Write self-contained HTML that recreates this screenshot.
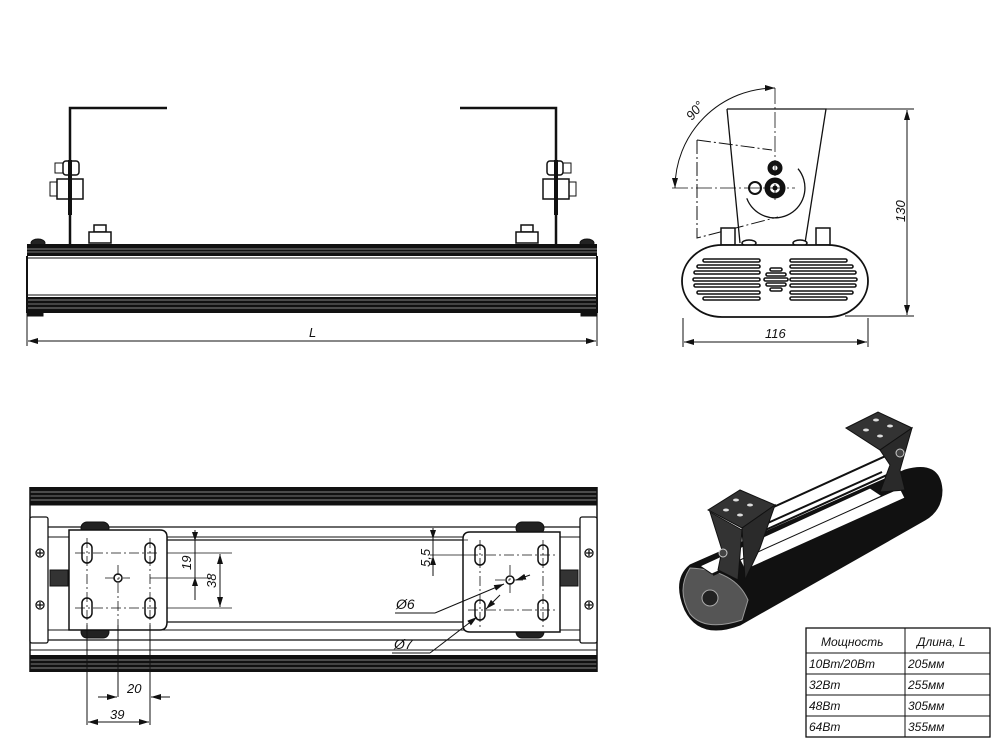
<!DOCTYPE html>
<html><head><meta charset="utf-8"><style>
html,body{margin:0;padding:0;background:#fff}
svg{display:block}
text{font-family:"Liberation Sans","DejaVu Sans",sans-serif;font-style:italic;fill:#111}
</style></head><body>
<svg width="1000" height="750" viewBox="0 0 1000 750" xmlns="http://www.w3.org/2000/svg">
<defs>
<marker id="ar" markerWidth="10" markerHeight="6" refX="10" refY="3" orient="auto-start-reverse" markerUnits="userSpaceOnUse"><path d="M0,0 L10,3 L0,6 z" fill="#111"/></marker>
</defs>
<g stroke="#111" fill="none" stroke-width="1">

<!-- ===== TOP LEFT VIEW ===== -->
<path d="M167,108 H70 V244" stroke-width="2.5"/>
<path d="M460,108 H556 V244" stroke-width="2.5"/>
<rect x="55" y="163" width="10" height="10" fill="#fff"/>
<rect x="63" y="161" width="16" height="14" rx="3" fill="#fff" stroke-width="1.5"/>
<rect x="50" y="182" width="8" height="14" fill="#fff"/>
<rect x="57" y="179" width="26" height="20" fill="#fff" stroke-width="1.5"/>
<line x1="70" y1="160" x2="70" y2="215" stroke-width="4"/>
<rect x="561" y="163" width="10" height="10" fill="#fff"/>
<rect x="547" y="161" width="16" height="14" rx="3" fill="#fff" stroke-width="1.5"/>
<rect x="568" y="182" width="8" height="14" fill="#fff"/>
<rect x="543" y="179" width="26" height="20" fill="#fff" stroke-width="1.5"/>
<line x1="556" y1="160" x2="556" y2="215" stroke-width="4"/>
<rect x="94" y="225" width="12" height="7" fill="#fff" stroke-width="1.5"/>
<rect x="89" y="232" width="22" height="11" fill="#fff" stroke-width="1.5"/>
<rect x="521" y="225" width="12" height="7" fill="#fff" stroke-width="1.5"/>
<rect x="516" y="232" width="22" height="11" fill="#fff" stroke-width="1.5"/>
<ellipse cx="38" cy="243" rx="7" ry="4" fill="#222"/>
<ellipse cx="587" cy="243" rx="7" ry="4" fill="#222"/>
<rect x="27" y="244" width="570" height="12" fill="#111" stroke="none"/>
<line x1="27" y1="249" x2="597" y2="249" stroke="#888"/>
<line x1="27" y1="252" x2="597" y2="252" stroke="#777"/>
<rect x="27" y="297" width="570" height="16" fill="#111" stroke="none"/>
<line x1="27" y1="300" x2="597" y2="300" stroke="#888"/>
<line x1="27" y1="304" x2="597" y2="304" stroke="#777"/>
<line x1="27" y1="308" x2="597" y2="308" stroke="#888"/>
<line x1="27" y1="256" x2="27" y2="313" stroke-width="2"/>
<line x1="597" y1="256" x2="597" y2="313" stroke-width="2"/>
<line x1="27" y1="258" x2="597" y2="258"/>
<line x1="27" y1="295" x2="597" y2="295"/>
<rect x="27" y="312" width="16" height="4" fill="#111"/>
<rect x="581" y="312" width="16" height="4" fill="#111"/>
<line x1="27" y1="316" x2="27" y2="346"/>
<line x1="597" y1="316" x2="597" y2="346"/>
<line x1="28" y1="341" x2="596" y2="341" marker-start="url(#ar)" marker-end="url(#ar)"/>

<!-- ===== TOP RIGHT VIEW ===== -->
<path d="M697,140 L772,150" stroke-dasharray="14,3,2,3"/>
<path d="M697,140 V238 L778,217" stroke-dasharray="14,3,2,3"/>
<path d="M727,109 H826 L805,243 M727,109 L740,243" stroke-width="1.3"/>
<path d="M798,168.7 A30,30 0 1 1 746.8,198.3" stroke-width="1.3" fill="none"/>
<circle cx="775" cy="168" r="7" fill="#111"/><circle cx="775" cy="168" r="2.5" fill="#fff" stroke="none"/>
<circle cx="775" cy="188" r="10" fill="#111"/><circle cx="775" cy="188" r="5" fill="#fff" stroke="none"/><circle cx="775" cy="188" r="2.5" fill="#111" stroke="none"/>
<circle cx="755" cy="188" r="6" fill="#fff" stroke-width="2"/>
<line x1="775" y1="88" x2="775" y2="200" stroke-dasharray="16,3,2,3" stroke-width="0.8"/>
<line x1="672" y1="188" x2="795" y2="188" stroke-dasharray="16,3,2,3" stroke-width="0.8"/>
<path d="M775,88 A100,100 0 0 0 675,188" marker-start="url(#ar)" marker-end="url(#ar)"/>
<rect x="721" y="228" width="14" height="17" fill="#fff" stroke-width="1.5"/>
<rect x="816" y="228" width="14" height="17" fill="#fff" stroke-width="1.5"/>
<ellipse cx="749" cy="243" rx="7" ry="3" fill="#fff" stroke-width="1.5"/>
<ellipse cx="800" cy="243" rx="7" ry="3" fill="#fff" stroke-width="1.5"/>
<rect x="682" y="245" width="186" height="72" rx="40" ry="36" fill="#fff" stroke-width="1.8"/>
<g stroke-width="1.6">
<rect x="703" y="259" width="57" height="3" rx="1.5"/>
<rect x="697" y="265" width="63" height="3" rx="1.5"/>
<rect x="694" y="271" width="66" height="3" rx="1.5"/>
<rect x="693" y="278" width="67" height="3" rx="1.5"/>
<rect x="694" y="284" width="66" height="3" rx="1.5"/>
<rect x="697" y="291" width="63" height="3" rx="1.5"/>
<rect x="703" y="297" width="57" height="3" rx="1.5"/>
<rect x="790" y="259" width="57" height="3" rx="1.5"/>
<rect x="790" y="265" width="63" height="3" rx="1.5"/>
<rect x="790" y="271" width="66" height="3" rx="1.5"/>
<rect x="790" y="278" width="67" height="3" rx="1.5"/>
<rect x="790" y="284" width="66" height="3" rx="1.5"/>
<rect x="790" y="291" width="63" height="3" rx="1.5"/>
<rect x="790" y="297" width="57" height="3" rx="1.5"/>
<rect x="770" y="268" width="12" height="3" rx="1.5"/>
<rect x="766" y="273" width="20" height="3" rx="1.5"/>
<rect x="764" y="278" width="24" height="3" rx="1.5"/>
<rect x="766" y="283" width="20" height="3" rx="1.5"/>
<rect x="770" y="288" width="12" height="3" rx="1.5"/>
</g>
<line x1="826" y1="109" x2="914" y2="109"/>
<line x1="845" y1="316" x2="914" y2="316"/>
<line x1="907" y1="110" x2="907" y2="315" marker-start="url(#ar)" marker-end="url(#ar)"/>
<line x1="683" y1="318" x2="683" y2="347"/>
<line x1="868" y1="318" x2="868" y2="347"/>
<line x1="684" y1="342" x2="867" y2="342" marker-start="url(#ar)" marker-end="url(#ar)"/>

<!-- ===== BOTTOM LEFT VIEW ===== -->
<rect x="30" y="487" width="567" height="18" fill="#111" stroke="none"/>
<line x1="30" y1="492" x2="597" y2="492" stroke="#888"/>
<line x1="30" y1="496" x2="597" y2="496" stroke="#777"/>
<line x1="30" y1="500" x2="597" y2="500" stroke="#888"/>
<rect x="30" y="655" width="567" height="17" fill="#111" stroke="none"/>
<line x1="30" y1="660" x2="597" y2="660" stroke="#888"/>
<line x1="30" y1="664" x2="597" y2="664" stroke="#777"/>
<line x1="30" y1="668" x2="597" y2="668" stroke="#888"/>
<line x1="30" y1="505" x2="597" y2="505"/>
<line x1="30" y1="650" x2="597" y2="650"/>
<line x1="30" y1="487" x2="30" y2="672" stroke-width="1.5"/>
<line x1="597" y1="487" x2="597" y2="672" stroke-width="1.5"/>
<line x1="48" y1="527" x2="580" y2="527" stroke-width="1.3"/>
<line x1="48" y1="537" x2="580" y2="537"/>
<line x1="165" y1="540" x2="463" y2="540" stroke-width="1.3"/>
<line x1="165" y1="622" x2="463" y2="622" stroke-width="1.3"/>
<line x1="48" y1="630" x2="580" y2="630"/>
<line x1="48" y1="640" x2="580" y2="640" stroke-width="1.3"/>
<rect x="30" y="517" width="18" height="126" rx="2" fill="#fff" stroke-width="1.3"/>
<rect x="580" y="517" width="17" height="126" rx="2" fill="#fff" stroke-width="1.3"/>
<g stroke-width="1.3">
<circle cx="40" cy="553" r="4"/><path d="M37,553 h6 M40,550 v6"/>
<circle cx="40" cy="605" r="4"/><path d="M37,605 h6 M40,602 v6"/>
<circle cx="589" cy="553" r="4"/><path d="M586,553 h6 M589,550 v6"/>
<circle cx="589" cy="605" r="4"/><path d="M586,605 h6 M589,602 v6"/>
</g>
<rect x="50" y="570" width="18" height="16" fill="#333"/>
<rect x="560" y="570" width="18" height="16" fill="#333"/>
<rect x="81" y="522" width="28" height="12" rx="6" fill="#222"/>
<rect x="81" y="626" width="28" height="12" rx="6" fill="#222"/>
<rect x="516" y="522" width="28" height="12" rx="6" fill="#222"/>
<rect x="516" y="626" width="28" height="12" rx="6" fill="#222"/>
<path d="M69,530 H160 Q167,530 167,537 V622 Q167,630 160,630 H69 Z" fill="#fff" stroke-width="1.5"/>
<path d="M470,532 H560 V632 H470 Q463,632 463,625 V539 Q463,532 470,532 Z" fill="#fff" stroke-width="1.5"/>
<g stroke-width="1.5">
<rect x="82" y="543" width="10" height="20" rx="5"/><rect x="145" y="543" width="10" height="20" rx="5"/>
<rect x="82" y="598" width="10" height="20" rx="5"/><rect x="145" y="598" width="10" height="20" rx="5"/>
<circle cx="118" cy="578" r="4"/>
<rect x="475" y="545" width="10" height="20" rx="5"/><rect x="538" y="545" width="10" height="20" rx="5"/>
<rect x="475" y="600" width="10" height="20" rx="5"/><rect x="538" y="600" width="10" height="20" rx="5"/>
<circle cx="510" cy="580" r="4"/>
</g>
<g stroke-width="0.8" stroke-dasharray="10,3,2,3">
<line x1="75" y1="553" x2="160" y2="553"/><line x1="75" y1="608" x2="160" y2="608"/>
<line x1="87" y1="538" x2="87" y2="625"/><line x1="150" y1="538" x2="150" y2="625"/>
<line x1="105" y1="578" x2="130" y2="578"/><line x1="118" y1="565" x2="118" y2="625"/>
<line x1="468" y1="555" x2="555" y2="555"/><line x1="468" y1="610" x2="555" y2="610"/>
<line x1="480" y1="540" x2="480" y2="627"/><line x1="543" y1="540" x2="543" y2="627"/>
<line x1="495" y1="580" x2="525" y2="580"/><line x1="510" y1="565" x2="510" y2="595"/>
</g>
<line x1="87" y1="625" x2="87" y2="725"/>
<line x1="118" y1="625" x2="118" y2="697"/>
<line x1="150" y1="625" x2="150" y2="725"/>
<line x1="98" y1="697" x2="117" y2="697" marker-end="url(#ar)"/>
<line x1="151" y1="697" x2="170" y2="697" marker-start="url(#ar)"/>
<line x1="88" y1="722" x2="149" y2="722" marker-start="url(#ar)" marker-end="url(#ar)"/>
<line x1="150" y1="578" x2="212" y2="578" stroke-width="0.8"/>
<line x1="167" y1="608" x2="232" y2="608" stroke-width="0.8"/>
<line x1="167" y1="553" x2="232" y2="553" stroke-width="0.8"/>
<line x1="195" y1="530" x2="195" y2="600"/>
<path d="M195,541 l-3,-9 h6 z M195,577 l-3,9 h6 z" fill="#111" stroke="none"/>
<line x1="220" y1="554" x2="220" y2="607" marker-start="url(#ar)" marker-end="url(#ar)"/>
<line x1="430" y1="540" x2="468" y2="540" stroke-width="0.8"/>
<line x1="430" y1="555" x2="468" y2="555" stroke-width="0.8"/>
<line x1="433" y1="528" x2="433" y2="576"/>
<path d="M433,539 l-3,-9 h6 z M433,556 l-3,9 h6 z" fill="#111" stroke="none"/>
<line x1="395" y1="613" x2="435" y2="613"/>
<line x1="435" y1="613" x2="504" y2="584" marker-end="url(#ar)"/>
<line x1="530" y1="575" x2="516" y2="580" marker-end="url(#ar)"/>
<line x1="392" y1="653" x2="430" y2="653"/>
<line x1="430" y1="653" x2="477" y2="617" marker-end="url(#ar)"/>
<line x1="500" y1="595" x2="486" y2="609" marker-end="url(#ar)"/>

<!-- ===== ISO VIEW ===== -->
<path d="M690,565 L905,470 Q940,460 942,490 Q942,510 925,520 L740,625 Q700,640 685,610 Q672,580 690,565 Z" fill="#111"/>
<path d="M690,568 Q676,590 690,614 Q705,632 742,620 L748,600 Q735,570 690,568 Z" fill="#555" stroke="#999"/>
<circle cx="710" cy="598" r="8" fill="#222" stroke="#aaa"/>
<path d="M700,566 L870,488 L882,496 L712,574 Z" fill="#fff" stroke="#111"/>
<path d="M713,575 L900,488" stroke="#111" stroke-width="2"/>
<path d="M740,560 L900,488 L905,498 L745,570 Z" fill="#fff" stroke="#111"/>
<path d="M745,520 L890,454 L898,470 L752,536 Z" fill="#fff" stroke="#111" stroke-width="2"/>
<path d="M752,530 L882,472" stroke="#111" stroke-width="2"/>
<path d="M708,510 L740,490 L775,505 L742,528 Z" fill="#333" stroke="#111"/>
<path d="M710,512 L722,550 L718,570 L738,580 L742,530 Z" fill="#333" stroke="#111"/>
<path d="M742,528 L775,505 L760,548 L745,580 Z" fill="#2a2a2a" stroke="#111"/>
<path d="M846,428 L878,412 L912,428 L880,450 Z" fill="#333" stroke="#111"/>
<path d="M880,450 L912,428 L900,470 L905,490 L880,492 L890,465 Z" fill="#2a2a2a" stroke="#111"/>
<g fill="#ddd" stroke="none">
<ellipse cx="736" cy="500" rx="3" ry="1.5"/><ellipse cx="750" cy="505" rx="3" ry="1.5"/>
<ellipse cx="726" cy="510" rx="3" ry="1.5"/><ellipse cx="740" cy="515" rx="3" ry="1.5"/>
<ellipse cx="876" cy="420" rx="3" ry="1.5"/><ellipse cx="890" cy="426" rx="3" ry="1.5"/>
<ellipse cx="866" cy="430" rx="3" ry="1.5"/><ellipse cx="880" cy="436" rx="3" ry="1.5"/>
</g>
<circle cx="723" cy="553" r="4" fill="#444" stroke="#ccc"/>
<circle cx="900" cy="453" r="4" fill="#444" stroke="#ccc"/>

<!-- ===== TABLE ===== -->
<rect x="806" y="628" width="184" height="109" stroke-width="1.3"/>
<line x1="905" y1="628" x2="905" y2="737"/>
<line x1="806" y1="653" x2="990" y2="653"/>
<line x1="806" y1="674" x2="990" y2="674"/>
<line x1="806" y1="695" x2="990" y2="695"/>
<line x1="806" y1="716" x2="990" y2="716"/>
</g>

<g font-size="13">
<text x="309" y="337">L</text>
<text x="765" y="338">116</text>
<text x="0" y="0" transform="translate(905,222) rotate(-90)">130</text>
<text x="0" y="0" transform="translate(692,121) rotate(-50)">90°</text>
<text x="0" y="0" transform="translate(191,570) rotate(-90)">19</text>
<text x="0" y="0" transform="translate(216,588) rotate(-90)">38</text>
<text x="0" y="0" transform="translate(430,567) rotate(-90)">5,5</text>
<text x="396" y="609" font-size="14">Ø6</text>
<text x="394" y="649" font-size="14">Ø7</text>
<text x="127" y="693">20</text>
<text x="110" y="719">39</text>
</g>
<g font-size="12">
<text x="821" y="646">Мощность</text>
<text x="917" y="646">Длина, L</text>
<text x="809" y="668">10Вт/20Вт</text><text x="908" y="668">205мм</text>
<text x="809" y="689">32Вт</text><text x="908" y="689">255мм</text>
<text x="809" y="710">48Вт</text><text x="908" y="710">305мм</text>
<text x="809" y="731">64Вт</text><text x="908" y="731">355мм</text>
</g>
</svg>
</body></html>
